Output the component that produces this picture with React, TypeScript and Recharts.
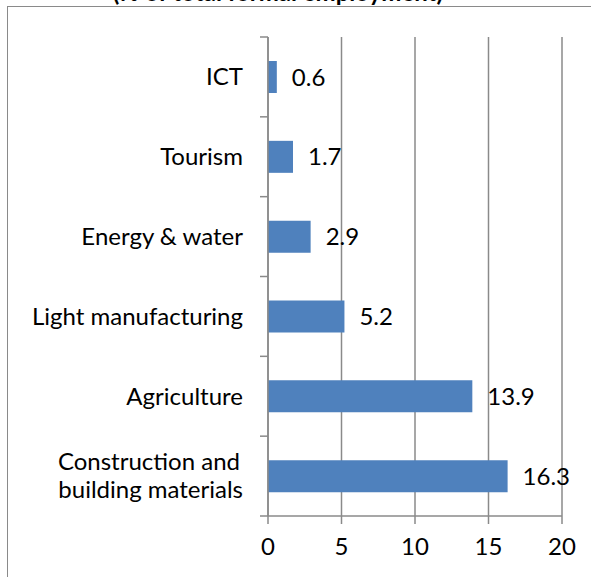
import { BarChart, Bar, XAxis, YAxis, CartesianGrid, LabelList } from "recharts"

const sectors = [
  "ICT",
  "Tourism",
  "Energy & water",
  "Light manufacturing",
  "Agriculture",
  "Construction and building materials",
]
const shares = [0.6, 1.7, 2.9, 5.2, 13.9, 16.3]
const xTicks = [0, 5, 10, 15, 20]

const data = sectors.map((sector, i) => ({ sector, share: shares[i] }))

const W = 591
const H = 577
const FONT = "Lato, 'Open Sans', sans-serif"
const FS = 24
const GRAY = "#8a8a8a"
const margin = { top: 37, right: 29, bottom: 21, left: 0 }
const yAxisWidth = 268
const xAxisHeight = 40
const band = (H - margin.top - margin.bottom - xAxisHeight) / sectors.length

function SectorTick(props: any) {
  const { x, y, payload, index } = props
  const axisX = margin.left + yAxisWidth
  const label: string = payload.value
  const lines = label === "Construction and building materials" ? ["Construction and", "building materials"] : [label]
  return (
    <g>
      {index === 0 && <line x1={axisX - 8} x2={axisX} y1={y - band / 2} y2={y - band / 2} stroke={GRAY} strokeWidth={1.5} />}
      <line x1={axisX - 8} x2={axisX} y1={y + band / 2} y2={y + band / 2} stroke={GRAY} strokeWidth={1.5} />
      <text x={x} y={y} textAnchor="end" fontSize={FS} fontFamily={FONT} fill="#000">
        {lines.map((l, i) => (
          <tspan key={i} x={lines.length > 1 && i === 0 ? x - 3 : x} dy={i === 0 ? (lines.length === 1 ? "0.35em" : "-0.24em") : "1.17em"}>
            {l}
          </tspan>
        ))}
      </text>
    </g>
  )
}

export default function App() {
  return (
    <div style={{ position: "absolute", left: 0, top: 0, width: W, height: H, overflow: "hidden", background: "#fff" }}>
      <div style={{ position: "absolute", left: 7, top: 6, width: 700, height: 700, border: `1.5px solid ${GRAY}` }} />
      <svg width={W} height={20} style={{ position: "absolute", left: 0, top: 0 }}>
        <text x={278} y={1} textAnchor="middle" fontSize={FS} fontWeight="bold" fontFamily={FONT} fill="#000">
          (% of total formal employment)
        </text>
      </svg>
      <div style={{ position: "absolute", left: 0, top: 0 }}>
        <BarChart width={W} height={H} data={data} layout="vertical" margin={margin}>
          <CartesianGrid horizontal={false} stroke={GRAY} strokeWidth={1.5} />
          <XAxis
            type="number"
            domain={[0, 20]}
            ticks={xTicks}
            height={xAxisHeight}
            stroke={GRAY}
            strokeWidth={1.5}
            tickSize={8}
            tickMargin={14}
            tick={{ fontSize: FS, fontFamily: FONT, fill: "#000" }}
          />
          <YAxis
            type="category"
            dataKey="sector"
            width={yAxisWidth}
            stroke={GRAY}
            strokeWidth={1.5}
            tickLine={false}
            tickSize={8}
            tickMargin={17}
            interval={0}
            tick={<SectorTick />}
          />
          <Bar dataKey="share" fill="#4F81BD" barSize={32} isAnimationActive={false}>
            <LabelList dataKey="share" position="right" offset={15} fontSize={FS} fontFamily={FONT} fill="#000" />
          </Bar>
        </BarChart>
      </div>
    </div>
  )
}
